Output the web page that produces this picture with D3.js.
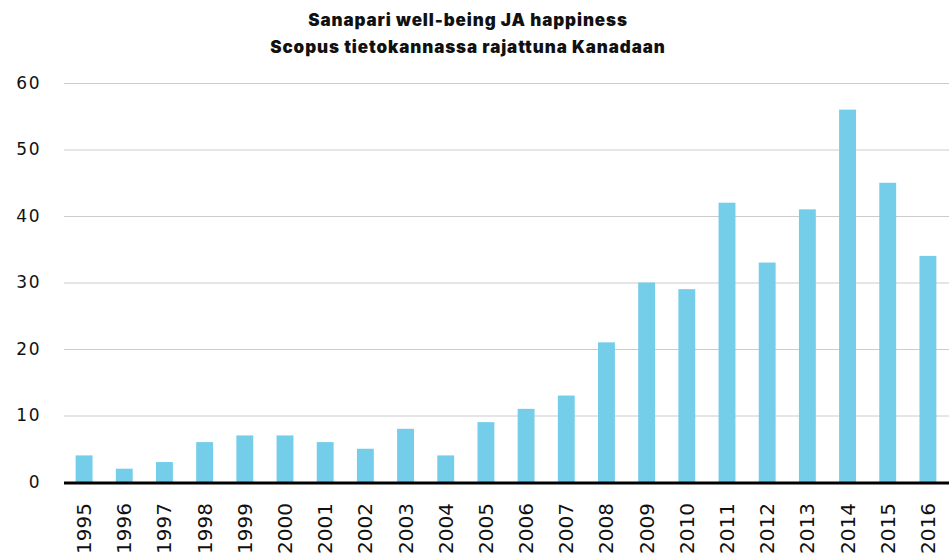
<!DOCTYPE html>
<html>
<head>
<meta charset="utf-8">
<script src="https://cdn.jsdelivr.net/npm/d3@7"></script>
<style>
  html, body { margin: 0; padding: 0; background: #fff; }
  svg { display: block; }
</style>
</head>
<body>
<svg id="chart" width="949" height="554"></svg>
<script>
const titleLines = ["Sanapari well-being JA happiness", "Scopus tietokannassa rajattuna Kanadaan"];
const years = ["1995","1996","1997","1998","1999","2000","2001","2002","2003","2004","2005","2006","2007","2008","2009","2010","2011","2012","2013","2014","2015","2016"];
const counts = [4, 2, 3, 6, 7, 7, 6, 5, 8, 4, 9, 11, 13, 21, 30, 29, 42, 33, 41, 56, 45, 34];
const yTicks = [0, 10, 20, 30, 40, 50, 60];

const W = 949, H = 554;
const margin = { left: 64, right: 1, top: 83, bottom: 72 };
const svg = d3.select("#chart");

const x = d3.scaleBand()
  .domain(years)
  .range([margin.left, W - margin.right])
  .paddingInner(0.58)
  .paddingOuter(0.29);

const y = d3.scaleLinear()
  .domain([0, 60])
  .range([H - margin.bottom, margin.top]);

// Title
svg.append("g").selectAll("text")
  .data(titleLines)
  .join("text")
  .attr("x", 468)
  .attr("y", (d, i) => 26 + i * 26.5)
  .attr("text-anchor", "middle")
  .attr("font-family", "Inter, 'DejaVu Sans', sans-serif")
  .attr("font-weight", 900)
  .attr("font-size", 17)
  .attr("letter-spacing", 0.9)
  .attr("fill", "#111")
  .text(d => d);

// Gridlines
const grid = svg.append("g")
  .attr("transform", `translate(${margin.left},0)`)
  .call(d3.axisLeft(y).tickValues(yTicks.filter(t => t > 0)).tickSize(-(W - margin.left)).tickFormat(""));
grid.select(".domain").remove();
grid.selectAll("line").attr("stroke", "#cccccc").attr("stroke-width", 1);

// Y labels
const yAxis = svg.append("g")
  .attr("transform", `translate(41,0)`)
  .call(d3.axisLeft(y).tickValues(yTicks).tickSize(0).tickPadding(0));
yAxis.select(".domain").remove();
yAxis.selectAll("text")
  .attr("font-family", "'DejaVu Sans', sans-serif")
  .attr("font-size", 17)
  .attr("letter-spacing", 1.5)
  .attr("fill", "#111")
  .attr("text-anchor", "end");

// Bars
svg.append("g").selectAll("rect")
  .data(counts)
  .join("rect")
  .attr("x", (d, i) => x(years[i]))
  .attr("width", x.bandwidth())
  .attr("y", d => y(d))
  .attr("height", d => y(0) - y(d))
  .attr("fill", "#74CDE9");

// Baseline
svg.append("line")
  .attr("x1", margin.left).attr("x2", W)
  .attr("y1", y(0) + 1).attr("y2", y(0) + 1)
  .attr("stroke", "#000").attr("stroke-width", 3);

// X labels
const xAxis = svg.append("g")
  .attr("transform", `translate(0,${y(0)})`)
  .call(d3.axisBottom(x).tickSize(0).tickPadding(0));
xAxis.select(".domain").remove();
xAxis.selectAll("text")
  .attr("font-family", "'DejaVu Sans', sans-serif")
  .attr("font-size", 20)
  .attr("fill", "#111")
  .attr("text-anchor", "end")
  .attr("dy", null)
  .attr("y", 0)
  .attr("transform", "translate(7,21) rotate(-90)");
</script>
</body>
</html>
